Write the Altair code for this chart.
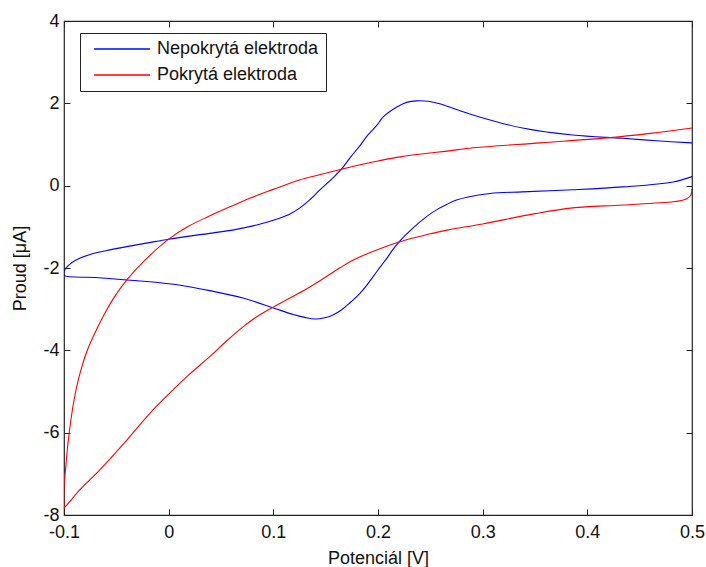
import altair as alt
import pandas as pd

# Nepokrytá elektroda (blue): upper branch right->left, then lower branch left->right
blue_upper_x = [0.5, 0.466, 0.434, 0.386, 0.338, 0.297, 0.275, 0.259, 0.248, 0.237, 0.228, 0.218,
                0.205, 0.199, 0.19, 0.183, 0.174, 0.165, 0.155, 0.1445, 0.135, 0.1254, 0.115, 0.1,
                0.085, 0.061, 0.03, 0.0, -0.02, -0.04, -0.06, -0.075, -0.088, -0.096, -0.1]
blue_upper_y = [1.04, 1.09, 1.15, 1.23, 1.40, 1.67, 1.85, 1.99, 2.05, 2.06, 2.03, 1.91,
                1.67, 1.47, 1.22, 0.98, 0.70, 0.40, 0.14, -0.10, -0.34, -0.54, -0.70, -0.84,
                -0.95, -1.08, -1.19, -1.30, -1.39, -1.48, -1.58, -1.67, -1.80, -1.94, -2.08]
blue_lower_x = [-0.1, -0.07, -0.04, -0.008, 0.011, 0.039, 0.071, 0.1, 0.119, 0.13, 0.14, 0.149,
                0.157, 0.165, 0.173, 0.183, 0.189, 0.195, 0.202, 0.208, 0.214, 0.221, 0.232, 0.247,
                0.257, 0.266, 0.275, 0.285, 0.307, 0.338, 0.386, 0.434, 0.482, 0.5]
blue_lower_y = [-2.18, -2.23, -2.29, -2.36, -2.42, -2.55, -2.73, -2.97, -3.13, -3.20, -3.24, -3.21,
                -3.14, -3.02, -2.85, -2.61, -2.43, -2.22, -1.98, -1.78, -1.56, -1.34, -1.06, -0.74,
                -0.57, -0.45, -0.35, -0.28, -0.19, -0.15, -0.10, -0.03, 0.09, 0.22]

# Pokrytá elektroda (red): lower branch right->left, then upper branch left->right
red_lower_x = [0.5, 0.499, 0.495, 0.49, 0.482, 0.434, 0.386, 0.35, 0.3, 0.266, 0.25, 0.228,
               0.2, 0.176, 0.164, 0.15, 0.135, 0.118, 0.1, 0.085, 0.071, 0.055, 0.039, 0.02,
               0.001, -0.018, -0.04, -0.066, -0.085, -0.097, -0.1]
red_lower_y = [-0.08, -0.22, -0.32, -0.36, -0.39, -0.47, -0.54, -0.68, -0.93, -1.08, -1.17, -1.31,
               -1.55, -1.81, -1.99, -2.22, -2.46, -2.70, -2.95, -3.17, -3.43, -3.78, -4.16, -4.58,
               -5.04, -5.53, -6.18, -6.91, -7.39, -7.75, -7.83]
red_upper_x = [-0.1, -0.1, -0.0985, -0.097, -0.095, -0.092, -0.088, -0.083, -0.077, -0.069,
               -0.062, -0.053, -0.04, -0.0226, 0.0, 0.018, 0.037, 0.058, 0.078, 0.1, 0.125,
               0.145, 0.165, 0.183, 0.2, 0.221, 0.245, 0.266, 0.291, 0.355, 0.419, 0.46, 0.5]
red_upper_y = [-7.83, -7.3, -6.9, -6.45, -6.0, -5.45, -4.9, -4.4, -3.95, -3.5,
               -3.15, -2.75, -2.29, -1.81, -1.30, -1.0, -0.76, -0.52, -0.30, -0.09, 0.14,
               0.27, 0.40, 0.51, 0.60, 0.70, 0.78, 0.84, 0.92, 1.04, 1.16, 1.27, 1.40]

series_names = ["Nepokrytá elektroda", "Pokrytá elektroda"]
series_colors = ["#0000ff", "#ff0000"]
x_ticks = [-0.1, 0.0, 0.1, 0.2, 0.3, 0.4, 0.5]
y_ticks = [-8, -6, -4, -2, 0, 2, 4]

rows = []
bx = blue_upper_x + blue_lower_x
by = blue_upper_y + blue_lower_y
for i, (x, y) in enumerate(zip(bx, by)):
    rows.append({"series": series_names[0], "E": x, "I": y, "idx": i})
rx = red_lower_x + red_upper_x
ry = red_lower_y + red_upper_y
for i, (x, y) in enumerate(zip(rx, ry)):
    rows.append({"series": series_names[1], "E": x, "I": y, "idx": i})
df = pd.DataFrame(rows)

FONT = "Liberation Sans"
FS = 18
TICK = 6

xscale = alt.Scale(domain=[-0.1, 0.5], nice=False, zero=False)
yscale = alt.Scale(domain=[-8, 4], nice=False, zero=False)
label_expr = "replace(datum.label, '\u2212', '-')"

main = alt.Chart(df).mark_line(strokeWidth=1.1, clip=True, interpolate="catmull-rom").encode(
    x=alt.X("E:Q", scale=xscale,
            axis=alt.Axis(orient="bottom", values=x_ticks, format="", labelExpr=label_expr,
                          title="Potenciál [V]", domain=False, grid=False,
                          tickSize=TICK, offset=-TICK, tickColor="#222", labelPadding=8,
                          labelFont=FONT, labelFontSize=FS, labelColor="#111",
                          titleFont=FONT, titleFontSize=FS, titleFontWeight="normal",
                          titleColor="#111", titleY=54, titleBaseline="alphabetic",
                          labelFlush=False)),
    y=alt.Y("I:Q", scale=yscale,
            axis=alt.Axis(orient="left", values=y_ticks, format="d", labelExpr=label_expr,
                          title="Proud [μA]", domain=False, grid=False,
                          tickSize=TICK, offset=-TICK, tickColor="#222", labelPadding=5,
                          labelFont=FONT, labelFontSize=FS, labelColor="#111",
                          titleFont=FONT, titleFontSize=FS, titleFontWeight="normal",
                          titleColor="#111", titleX=-50, titleBaseline="middle",
                          labelFlush=False)),
    color=alt.Color("series:N",
                    scale=alt.Scale(domain=series_names, range=series_colors),
                    legend=alt.Legend(title=None, orient="none", legendX=16, legendY=12,
                                      symbolType="M-0.29,0H7.71", symbolSize=196,
                                      symbolStrokeWidth=1.3, labelFont=FONT,
                                      labelFontSize=FS, labelColor="#111", labelOffset=52,
                                      padding=7, rowPadding=8, strokeColor="#222",
                                      fillColor="white", labelLimit=400)),
    order=alt.Order("idx:Q"),
)

mirror = alt.Chart(df).mark_line(strokeOpacity=0).encode(
    x=alt.X("E:Q", scale=xscale,
            axis=alt.Axis(orient="top", values=x_ticks, labels=False, title=None,
                          domain=False, grid=False, tickSize=TICK, offset=-TICK,
                          tickColor="#222")),
    y=alt.Y("I:Q", scale=yscale,
            axis=alt.Axis(orient="right", values=y_ticks, labels=False, title=None,
                          domain=False, grid=False, tickSize=TICK, offset=-TICK,
                          tickColor="#222")),
    detail="series:N",
    order=alt.Order("idx:Q"),
)

chart = alt.layer(main, mirror).resolve_axis(x="independent", y="independent").properties(
    width=628, height=494,
    autosize=alt.AutoSizeParams(type="none"),
    padding={"left": 64, "top": 21, "right": 14, "bottom": 52},
    background="white",
).configure_view(stroke="#222", strokeWidth=1.2)

chart.save("out.html", embed_options={"renderer": "svg", "actions": False})
